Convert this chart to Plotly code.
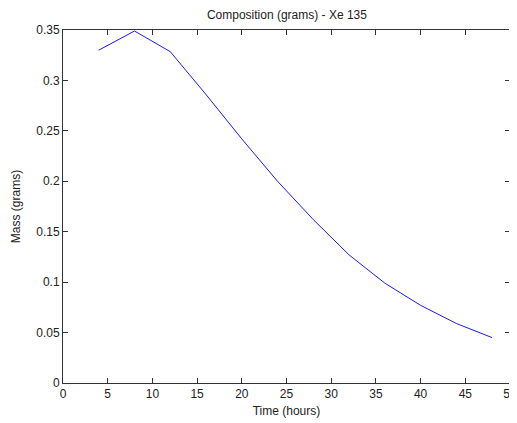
import plotly.graph_objects as go

time_hours = [4, 8, 12, 16, 20, 24, 28, 32, 36, 40, 44, 48]
mass_grams = [0.330, 0.349, 0.3285, 0.286, 0.242, 0.200, 0.162, 0.127, 0.099, 0.077, 0.059, 0.045]

x_ticks = [0, 5, 10, 15, 20, 25, 30, 35, 40, 45, 50]
y_ticks = [0, 0.05, 0.1, 0.15, 0.2, 0.25, 0.3, 0.35]
y_tick_labels = ["0", "0.05", "0.1", "0.15", "0.2", "0.25", "0.3", "0.35"]

FONT = "Liberation Sans, Arial"

fig = go.Figure()
fig.add_trace(go.Scatter(x=time_hours, y=mass_grams, mode="lines",
                         line=dict(color="#1a1aff", width=1), showlegend=False))

axis_common = dict(showgrid=False, zeroline=False, showline=True, linecolor="#333333",
                   linewidth=1, mirror="allticks", ticks="inside", ticklen=5, automargin=False,
                   tickcolor="#333333", tickfont=dict(family=FONT, size=12, color="#222222"))

fig.update_layout(
    width=509, height=415,
    paper_bgcolor="white", plot_bgcolor="white",
    margin=dict(l=55, r=7, t=22, b=40),
    title=dict(text="Composition (grams) - Xe 135", x=0.548, xanchor="center", y=0.983, yanchor="middle",
               font=dict(family=FONT, size=12, color="#222222")),
    xaxis=dict(range=[0, 50], tickvals=x_ticks, **axis_common,
               title=dict(text="Time (hours)", standoff=6,
                          font=dict(family=FONT, size=12, color="#222222"))),
    yaxis=dict(range=[0, 0.35], tickvals=y_ticks, ticktext=y_tick_labels, **axis_common,
               title=dict(text="Mass (grams)", standoff=13,
                          font=dict(family=FONT, size=12, color="#222222"))),
)

fig.write_html("out.html")
